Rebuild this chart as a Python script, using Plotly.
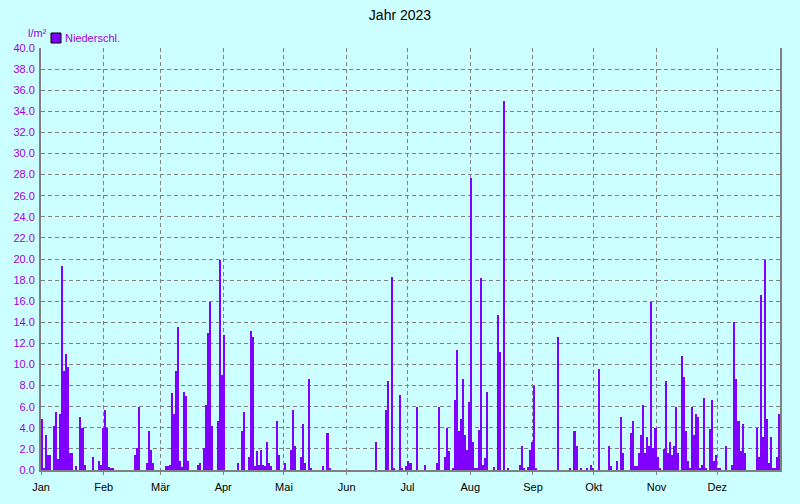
import pandas as pd
import plotly.graph_objects as go

# Daily precipitation (l/m²) per month, 2023
jan = [4.8, 0.2, 3.3, 1.4, 1.4, 0, 4.2, 5.5, 1.0, 5.3, 19.3, 9.4, 11.0, 9.8, 1.6, 1.6, 0, 0.35, 0, 5.0,
       4.0, 0.5, 0, 0, 0, 1.2, 0, 0, 0.9, 0.5, 4.0]
feb = [5.65, 4.0, 0.3, 0.15, 0.15, 0, 0, 0, 0, 0, 0, 0, 0, 0, 0, 1.4, 2.1, 6.0, 0, 0,
       0, 0.7, 3.7, 1.9, 0.7, 0, 0, 0]
mar = [0, 0, 0.35, 0.35, 0.5, 7.3, 5.3, 9.4, 13.6, 0.9, 0.3, 7.4, 7.0, 0.9, 0, 0, 0, 0, 0.5, 0.7,
       0, 2.1, 6.2, 13.0, 15.9, 4.2, 0, 0, 4.6, 19.9, 9.0]
apr = [12.8, 0, 0, 0, 0, 0, 0, 0.7, 0, 3.7, 5.5, 0, 1.2, 13.2, 12.6, 0.35, 1.8, 0.5, 1.9, 0.5,
       0.35, 2.7, 0.7, 0.35, 0, 0, 4.6, 1.4, 0, 0]
mai = [0.7, 0, 0, 1.9, 5.65, 2.3, 0, 0, 1.2, 4.4, 0.7, 0, 8.6, 0.15, 0, 0, 0, 0, 0, 0.35,
       0, 3.5, 0.15, 0, 0, 0, 0, 0, 0, 0, 0]
jun = [0, 0, 0, 0, 0, 0, 0, 0, 0, 0, 0, 0, 0, 0, 2.7, 0, 0, 0, 0, 5.65,
       8.4, 0, 18.3, 0.15, 0, 0, 7.1, 0.15, 0, 0.35]
jul = [0.9, 0.7, 0, 0, 6.0, 0, 0, 0, 0.5, 0, 0, 0, 0, 0, 0.7, 6.0, 0, 0, 1.2, 4.0,
       1.8, 0, 0.15, 6.6, 11.4, 3.7, 4.8, 8.6, 3.3, 1.9, 6.4]
aug = [27.7, 2.7, 0.1, 0.1, 3.8, 18.2, 0.5, 1.1, 7.4, 0, 0, 0.3, 0, 14.7, 11.2, 0, 35.0, 0, 0.1, 0,
       0, 0, 0, 0, 0.5, 2.3, 0.1, 0, 0.3, 1.9, 2.65]
sep = [8.0, 0.15, 0, 0, 0, 0, 0, 0, 0, 0, 0, 0, 12.6, 0, 0, 0, 0, 0, 0.15, 0,
       3.7, 2.3, 0, 0.15, 0, 0, 0.15, 0, 0.5, 0.15]
okt = [0, 0, 9.6, 0, 0, 0, 0, 2.3, 0.35, 0, 0, 0.9, 0, 5.0, 1.6, 0, 0, 0, 3.5, 4.6,
       0.35, 0.35, 1.6, 3.3, 6.2, 1.6, 3.1, 2.3, 15.9, 2.1, 4.0]
nov = [1.2, 0.15, 0, 1.95, 8.4, 1.6, 2.7, 1.4, 2.3, 6.0, 1.6, 0, 10.8, 8.8, 3.7, 0.9, 0.15, 6.0, 3.3, 5.3,
       5.0, 0.15, 0.5, 6.8, 0.15, 0, 3.9, 6.6, 0.9, 1.4]
dez = [0.15, 0.15, 0, 0, 2.3, 0, 0, 0.5, 14.0, 8.6, 4.6, 1.8, 4.4, 1.6, 0, 0, 0, 0, 0, 4.0,
       1.2, 16.6, 3.1, 19.9, 4.8, 0.7, 3.1, 0.15, 0.15, 1.2, 5.3]

month_labels = ["Jan", "Feb", "Mär", "Apr", "Mai", "Jun", "Jul", "Aug", "Sep", "Okt", "Nov", "Dez"]
y_ticks = [i * 2.0 for i in range(21)]
series_name = "Niederschl."

values = jan + feb + mar + apr + mai + jun + jul + aug + sep + okt + nov + dez
days = pd.date_range("2023-01-01", periods=len(values), freq="D") + pd.Timedelta(hours=12)
month_starts = pd.date_range("2023-01-01", periods=12, freq="MS")

BG = "#CCFFFF"
GRID = "#808080"
BAR = "#8000FF"
LABEL = "#A000E0"
FONT = "Liberation Sans, Arial, sans-serif"

W, H = 800, 504
L, R, T, B = 41, 20, 48, 34
PW, PH = W - L - R, H - T - B

def px_x(x):  # pixel -> paper x
    return (x - L) / PW

def px_y(y):  # pixel -> paper y
    return (H - B - y) / PH

fig = go.Figure()
fig.add_trace(go.Bar(
    x=days, y=values, name=series_name, showlegend=False,
    marker=dict(color=BAR, line=dict(width=0)),
    width=86400000,
))

fig.update_layout(
    width=W, height=H,
    paper_bgcolor=BG, plot_bgcolor=BG,
    margin=dict(l=L, r=R, t=T, b=B, autoexpand=False),
    bargap=0,
    font=dict(family=FONT, size=11, color="black"),
    title=dict(text="Jahr 2023", x=0.5, xanchor="center", y=1 - 15 / H, yanchor="middle",
               font=dict(family=FONT, size=14, color="black")),
    shapes=[dict(type="rect", xref="paper", yref="paper",
                 x0=px_x(51), x1=px_x(61), y0=px_y(43), y1=px_y(33),
                 fillcolor=BAR, line=dict(color="black", width=1))],
    annotations=[
        dict(text="l/m²", x=px_x(26), y=px_y(33), xref="paper", yref="paper",
             xanchor="left", yanchor="middle", showarrow=False,
             font=dict(family=FONT, size=11, color=LABEL)),
        dict(text=series_name, x=px_x(63), y=px_y(38), xref="paper", yref="paper",
             xanchor="left", yanchor="middle", showarrow=False,
             font=dict(family=FONT, size=11, color=LABEL)),
    ],
)

fig.update_xaxes(
    type="date", range=["2023-01-01", "2024-01-01"],
    tickvals=month_starts, ticktext=month_labels, automargin=False,
    showgrid=True, gridcolor=GRID, griddash="4px,3px", gridwidth=1,
    showline=True, linecolor=GRID, linewidth=2,
    ticks="outside", ticklen=3, tickcolor=GRID, ticklabelstandoff=3,
    tickfont=dict(family=FONT, size=11, color="black"),
    zeroline=False,
)
fig.update_yaxes(
    range=[0, 40], tickvals=y_ticks, tickformat=".1f", automargin=False,
    showgrid=True, gridcolor=GRID, griddash="4px,3px", gridwidth=1,
    showline=True, linecolor=GRID, linewidth=2, mirror=True,
    ticks="", ticklabelstandoff=2, tickfont=dict(family=FONT, size=11, color=LABEL),
    zeroline=False,
)

fig.write_html(
    "out.html",
    config={"displayModeBar": False},
    post_script="document.body.style.margin='0';document.body.style.background='" + BG + "';",
)
